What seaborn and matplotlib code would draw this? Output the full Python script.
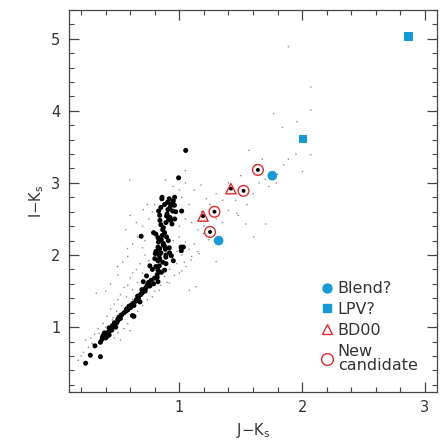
import numpy as np
import pandas as pd
import matplotlib
matplotlib.use('Agg')
import matplotlib.pyplot as plt
from matplotlib.ticker import MultipleLocator
from matplotlib.lines import Line2D
import seaborn as sns

sns.set_style('ticks')
plt.rcParams['font.family'] = ['DejaVu Sans']

BLUE = '#149ad6'
RED = '#e3292b'

# main sequence stars (big black dots), J-Ks and I-Ks
main_jk = [1.052, 0.994, 0.859, 0.918, 0.962, 0.951, 0.935, 0.904, 0.850, 0.924,
           0.831, 0.907, 0.945, 1.019, 0.896, 0.924, 0.913, 0.962, 0.842, 0.891,
           0.940, 0.809, 0.864, 0.826, 0.853, 0.896, 0.689, 0.869, 0.826, 0.880,
           0.831, 0.886, 0.918, 1.033, 1.016, 0.804, 0.836, 0.891, 0.935, 0.826,
           0.864, 0.809, 0.836, 0.891, 0.951, 0.760, 0.826, 0.853, 0.880, 0.733,
           0.820, 0.771, 0.798, 0.826, 0.706, 0.738, 0.695, 0.722, 0.684, 0.667,
           0.646, 0.679, 0.624, 0.602, 0.581, 0.618, 0.564, 0.509, 0.499, 0.471,
           0.455, 0.482, 0.428, 0.450, 0.411, 0.384, 0.373, 0.400, 0.428, 0.357,
           0.313, 0.275, 0.357, 0.237, 0.87, 0.85, 0.90, 0.93, 0.88, 0.84,
           0.79, 0.83, 0.87, 0.91, 0.86, 0.81, 0.85, 0.89, 0.84, 0.92,
           0.80, 0.78, 0.82, 0.75, 0.79, 0.73, 0.70, 0.66, 0.63, 0.59,
           0.55, 0.53, 0.50, 0.47, 0.44, 0.42, 0.39, 0.41, 0.37, 0.38,
           0.43, 0.46, 0.49, 0.52, 0.57, 0.61, 0.65, 0.69, 0.72, 0.76,
           0.97, 0.96, 0.93, 0.88, 0.84, 0.63, 1.014, 0.858]
main_ik = [3.45, 3.07, 2.80, 2.78, 2.80, 2.75, 2.71, 2.73, 2.66, 2.66,
           2.61, 2.63, 2.61, 2.61, 2.54, 2.52, 2.49, 2.50, 2.48, 2.45,
           2.43, 2.29, 2.35, 2.24, 2.21, 2.25, 2.26, 2.14, 2.11, 2.12,
           2.06, 2.08, 2.10, 2.11, 2.06, 2.02, 2.00, 2.00, 1.99, 1.92,
           1.90, 1.84, 1.85, 1.88, 1.92, 1.85, 1.79, 1.76, 1.79, 1.71,
           1.73, 1.65, 1.68, 1.63, 1.63, 1.58, 1.52, 1.50, 1.45, 1.40,
           1.36, 1.35, 1.33, 1.27, 1.24, 1.16, 1.22, 1.14, 1.11, 1.06,
           1.02, 1.00, 0.99, 0.96, 0.91, 0.89, 0.86, 0.85, 0.89, 0.79,
           0.74, 0.61, 0.59, 0.50, 2.38, 2.42, 2.57, 2.69, 2.70, 2.55,
           2.31, 2.18, 2.16, 2.20, 2.27, 2.05, 2.03, 1.97, 1.95, 2.03,
           1.95, 1.80, 1.69, 1.62, 1.60, 1.55, 1.48, 1.43, 1.30, 1.29,
           1.20, 1.17, 1.09, 1.03, 0.97, 0.93, 0.92, 0.87, 0.83, 0.88,
           0.94, 1.00, 1.06, 1.12, 1.25, 1.31, 1.38, 1.46, 1.53, 1.57,
           2.60, 2.69, 2.48, 2.31, 2.09, 1.15, 2.11, 2.78]

# faint field stars (tiny grey dots)
field_jk = [1.888, 2.071, 2.071, 1.768, 1.959, 1.839, 1.567, 1.676, 1.888, 2.071,
            2.003, 0.597, 0.886, 1.049, 1.177, 1.458, 1.354, 1.469, 1.703, 1.540,
            1.605, 1.300, 1.082, 1.136, 0.324, 0.706, 0.564, 0.578, 0.496, 0.237,
            0.177, 1.73, 1.79, 1.196, 1.24, 1.16, 1.095, 1.055, 1.00, 0.918,
            0.837, 0.782, 0.728, 0.673, 0.619, 0.564, 0.51, 0.455, 0.40, 0.346,
            0.29, 0.70, 0.72, 0.75, 0.68, 0.65, 0.62, 0.70, 0.60, 0.66,
            0.58, 0.55, 0.62, 0.52, 0.57, 0.50, 0.47, 0.53, 0.44, 0.49,
            0.41, 0.46, 0.38, 0.34, 0.31, 0.28, 0.26, 0.22, 0.20, 0.95,
            1.00, 1.05, 0.98, 1.02, 1.08, 1.12, 0.95, 0.98, 1.04, 1.10,
            1.15, 0.92, 0.96, 1.02, 0.88, 0.90, 0.85, 0.80, 0.78, 0.74,
            0.70, 0.66, 0.62, 0.58, 0.55, 0.50, 0.47, 0.52, 0.60, 1.00,
            1.05, 1.10, 1.15, 1.20, 1.18, 1.25, 1.30, 1.35, 1.40, 1.48,
            1.55, 1.60, 1.65, 1.70, 1.80, 1.85, 1.95, 1.62, 1.50, 1.40,
            1.30, 1.22, 1.12, 1.08, 1.02, 1.00, 0.95, 1.05, 0.60, 0.65,
            0.70, 0.75, 0.78, 0.80, 0.74, 0.72, 0.66, 0.62, 0.58, 0.54,
            0.50, 0.44, 0.40]
field_ik = [4.89, 4.33, 4.01, 3.96, 3.85, 3.77, 3.45, 3.33, 3.33, 3.39,
            3.16, 3.04, 3.04, 3.17, 2.97, 2.76, 2.76, 2.58, 2.43, 2.43,
            2.25, 1.91, 1.51, 1.56, 1.47, 2.63, 2.35, 2.09, 1.84, 0.82,
            0.54, 2.95, 3.00, 2.30, 2.21, 2.02, 1.93, 1.84, 1.75, 1.61,
            1.51, 1.65, 1.61, 1.47, 1.38, 1.28, 1.19, 1.10, 1.00, 0.91,
            0.77, 2.10, 2.00, 1.92, 1.88, 1.80, 1.75, 1.75, 1.68, 1.62,
            1.58, 1.55, 1.52, 1.45, 1.42, 1.38, 1.32, 1.30, 1.25, 1.22,
            1.15, 1.13, 1.05, 0.98, 0.90, 0.85, 0.72, 0.65, 0.60, 2.20,
            2.25, 2.18, 2.05, 2.00, 2.08, 2.15, 1.95, 1.88, 1.90, 1.98,
            2.05, 1.80, 1.72, 1.78, 1.70, 1.62, 1.58, 1.50, 1.42, 1.38,
            1.30, 1.22, 1.12, 1.05, 0.98, 0.92, 0.85, 0.82, 0.95, 2.40,
            2.50, 2.45, 2.35, 2.40, 2.60, 2.70, 2.50, 2.45, 2.62, 2.55,
            2.70, 2.85, 3.00, 3.05, 3.12, 3.25, 3.40, 3.25, 3.10, 3.00,
            2.85, 2.78, 2.90, 2.70, 2.80, 2.90, 2.95, 3.00, 2.55, 2.45,
            2.40, 2.50, 2.60, 2.70, 2.70, 2.20, 2.25, 2.15, 1.98, 1.90,
            1.72, 1.60, 1.50]

blend_jk = [1.757, 1.32]
blend_ik = [3.10, 2.20]
lpv_jk = [2.866, 2.008]
lpv_ik = [5.03, 3.61]
bd00_jk = [1.193, 1.42]
bd00_ik = [2.54, 2.92]
new_jk = [1.64, 1.523, 1.286, 1.25]
new_ik = [3.18, 2.89, 2.60, 2.32]

main_df = pd.DataFrame({'jk': main_jk, 'ik': main_ik})
field_df = pd.DataFrame({'jk': field_jk, 'ik': field_ik})
flagged_df = pd.DataFrame({'jk': bd00_jk + new_jk, 'ik': bd00_ik + new_ik})

fig = plt.figure(figsize=(4.47, 4.47), dpi=100)
ax = fig.add_axes([0.154, 0.123, 0.824, 0.855])

sns.scatterplot(data=field_df, x='jk', y='ik', s=1.2, color='#888888',
                edgecolor='none', ax=ax)
sns.scatterplot(data=main_df, x='jk', y='ik', s=13, color='black',
                edgecolor='none', ax=ax)
sns.scatterplot(data=flagged_df, x='jk', y='ik', s=8, color='black',
                edgecolor='none', ax=ax)
sns.scatterplot(x=blend_jk, y=blend_ik, s=48, color=BLUE, edgecolor='none',
                marker='o', ax=ax)
sns.scatterplot(x=lpv_jk, y=lpv_ik, s=38, color=BLUE, edgecolor='none',
                marker='s', ax=ax)
sns.scatterplot(x=bd00_jk, y=bd00_ik, s=55, facecolor='none', edgecolor=RED,
                linewidth=1.0, marker='^', ax=ax)
sns.scatterplot(x=new_jk, y=new_ik, s=60, facecolor='none', edgecolor=RED,
                linewidth=1.0, marker='o', ax=ax)

ax.set_xlim(0.1, 3.1)
ax.set_ylim(0.1, 5.4)
ax.xaxis.set_major_locator(MultipleLocator(1))
ax.xaxis.set_minor_locator(MultipleLocator(0.2))
ax.yaxis.set_major_locator(MultipleLocator(1))
ax.yaxis.set_minor_locator(MultipleLocator(0.2))
ax.tick_params(which='both', direction='in', top=True, right=True,
               color='#444444', labelsize=10.5, labelcolor='#333333')
ax.tick_params(which='major', length=7, width=0.9, pad=6)
ax.tick_params(which='minor', length=3.5, width=0.8)
for sp in ax.spines.values():
    sp.set_color('#444444')
    sp.set_linewidth(0.9)

ax.set_xlabel('J$-$K$_{\\rm s}$', fontsize=10.5, color='#333333')
ax.set_ylabel('I$-$K$_{\\rm s}$', fontsize=10.5, color='#333333')

handles = [
    Line2D([], [], marker='o', ls='none', color=BLUE, markersize=6.5),
    Line2D([], [], marker='s', ls='none', color=BLUE, markersize=5.5),
    Line2D([], [], marker='^', ls='none', markerfacecolor='none',
           markeredgecolor=RED, markersize=7),
    Line2D([], [], marker='o', ls='none', markerfacecolor='none',
           markeredgecolor=RED, markersize=8.5),
]
labels = ['Blend?', 'LPV?', 'BD00', 'New\ncandidate']
leg = ax.legend(handles, labels, loc='lower left', frameon=False,
                fontsize=11.5, handletextpad=0.15, handlelength=1.0,
                labelspacing=0.36, borderaxespad=0.0, borderpad=0.0,
                bbox_to_anchor=(0.68, 0.05))
for t in leg.get_texts():
    t.set_color('#333333')
    t.set_linespacing(0.95)

fig.savefig('out.png', dpi=100)
